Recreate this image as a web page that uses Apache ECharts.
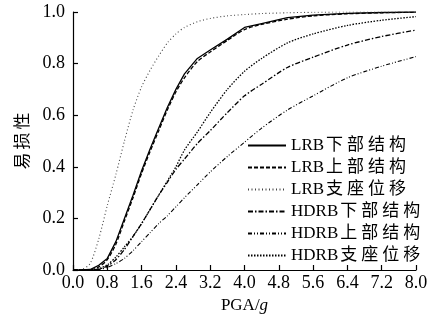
<!DOCTYPE html>
<html>
<head>
<meta charset="utf-8">
<script src="https://cdn.jsdelivr.net/npm/echarts@6/dist/echarts.min.js"></script>
<style>
  html, body { margin: 0; padding: 0; background: #fff; }
  #chart { width: 443px; height: 321px; }
</style>
</head>
<body>
<div id="chart"></div>
<script>
// PGA (g) sample points shared by every curve
const pga = [0, 0.2, 0.4, 0.6, 0.8, 1.0, 1.2, 1.4, 1.6, 1.8, 2.0, 2.2, 2.4, 2.6, 2.9, 3.2, 3.6, 4.0, 4.4, 5.0, 5.6, 6.4, 7.2, 8.0];

const lrbSub = [0, 0, 0.002, 0.018, 0.045, 0.11, 0.2, 0.29, 0.385, 0.47, 0.55, 0.63, 0.7, 0.76, 0.82, 0.853, 0.895, 0.94, 0.955, 0.978, 0.988, 0.995, 0.998, 1.0];
const lrbSuper = [0, 0, 0.001, 0.012, 0.04, 0.1, 0.19, 0.28, 0.375, 0.46, 0.54, 0.62, 0.69, 0.745, 0.808, 0.845, 0.89, 0.932, 0.952, 0.972, 0.985, 0.993, 0.997, 0.999];
const lrbBearing = [0, 0.002, 0.025, 0.12, 0.25, 0.37, 0.5, 0.62, 0.71, 0.775, 0.83, 0.88, 0.915, 0.94, 0.962, 0.975, 0.985, 0.99, 0.994, 0.997, 0.999, 1, 1, 1];
const hdrbSub = [0, 0, 0, 0.004, 0.015, 0.04, 0.08, 0.13, 0.18, 0.235, 0.29, 0.34, 0.39, 0.43, 0.49, 0.54, 0.61, 0.675, 0.72, 0.785, 0.825, 0.872, 0.905, 0.93];
const hdrbSuper = [0, 0, 0, 0.002, 0.01, 0.025, 0.045, 0.075, 0.11, 0.145, 0.18, 0.21, 0.245, 0.28, 0.33, 0.38, 0.44, 0.495, 0.55, 0.62, 0.675, 0.745, 0.79, 0.827];
const hdrbBearing = [0, 0, 0, 0.005, 0.02, 0.05, 0.09, 0.13, 0.18, 0.235, 0.29, 0.345, 0.4, 0.465, 0.535, 0.61, 0.7, 0.77, 0.82, 0.88, 0.915, 0.948, 0.968, 0.982];

const seriesNames = ["LRB下部结构", "LRB上部结构", "LRB支座位移", "HDRB下部结构", "HDRB上部结构", "HDRB支座位移"];

const FONT = "'Liberation Serif', 'Times New Roman', 'Noto Sans CJK SC', serif";

const lineDefs = [
  { values: lrbSub, type: "solid", color: "#000", width: 1.3 },
  { values: lrbSuper, type: [4, 2], color: "#000", width: 1.3 },
  { values: lrbBearing, type: [1, 2.5], color: "#444", width: 1.1 },
  { values: hdrbSub, type: [5, 2, 1.5, 2], color: "#000", width: 1.3 },
  { values: hdrbSuper, type: [4, 2, 1, 2, 1, 2], color: "#000", width: 1.1 },
  { values: hdrbBearing, type: [1.5, 1.5], color: "#000", width: 1.3 },
];

// spaced-out CJK characters, as in the figure
const spaceCjk = (s) => s.replace(/([\u4e00-\u9fff])/g, "{c|$1}");

const chart = echarts.init(document.getElementById("chart"), null, { renderer: "canvas" });

const option = {
  animation: false,
  backgroundColor: "#fff",
  grid: { left: 73, right: 27, top: 12, bottom: 51 },
  legend: {
    orient: "vertical",
    left: 247,
    top: 137,
    padding: 0,
    itemWidth: 38,
    itemHeight: 14,
    itemGap: 5,
    data: seriesNames,
    itemStyle: { opacity: 0 },
    formatter: spaceCjk,
    textStyle: {
      fontFamily: FONT,
      fontSize: 17,
      color: "#000",
      rich: { c: { fontFamily: FONT, fontSize: 17, color: "#000", width: 21, align: "center" } },
    },
  },
  xAxis: {
    type: "value",
    min: 0,
    max: 8,
    interval: 0.8,
    name: "PGA/{i|g}",
    nameLocation: "middle",
    nameGap: 20,
    nameTextStyle: {
      fontFamily: FONT,
      fontSize: 17,
      color: "#000",
      rich: { i: { fontFamily: FONT, fontSize: 17, fontStyle: "italic", color: "#000" } },
    },
    axisLine: { lineStyle: { color: "#000", width: 1.2 } },
    axisTick: { inside: true, length: 5, lineStyle: { color: "#000", width: 1.2 } },
    axisLabel: {
      fontFamily: FONT,
      fontSize: 18,
      color: "#000",
      margin: 4,
      formatter: (v) => v.toFixed(1),
    },
    splitLine: { show: false },
  },
  yAxis: {
    type: "value",
    min: 0,
    max: 1,
    interval: 0.2,
    name: spaceCjk("易损性"),
    nameLocation: "middle",
    nameRotate: 90,
    nameGap: 41,
    nameTextStyle: {
      fontFamily: FONT,
      fontSize: 17,
      color: "#000",
      rich: { c: { fontFamily: FONT, fontSize: 17, color: "#000", width: 20, align: "center" } },
    },
    axisLine: { show: true, lineStyle: { color: "#000", width: 1.2 } },
    axisTick: { show: true, inside: true, length: 5, lineStyle: { color: "#000", width: 1.2 } },
    axisLabel: {
      fontFamily: FONT,
      fontSize: 18,
      color: "#000",
      margin: 8,
      formatter: (v) => v.toFixed(1),
    },
    splitLine: { show: false },
  },
  series: lineDefs.map((d, i) => ({
    type: "line",
    name: seriesNames[i],
    data: pga.map((x, j) => [x, d.values[j]]),
    symbol: "none",
    smooth: i === 0 ? false : 0.25,
    color: d.color,
    lineStyle: { type: d.type, width: d.width, color: d.color },
    emphasis: { disabled: true },
  })),
};

chart.setOption(option);
</script>
</body>
</html>
